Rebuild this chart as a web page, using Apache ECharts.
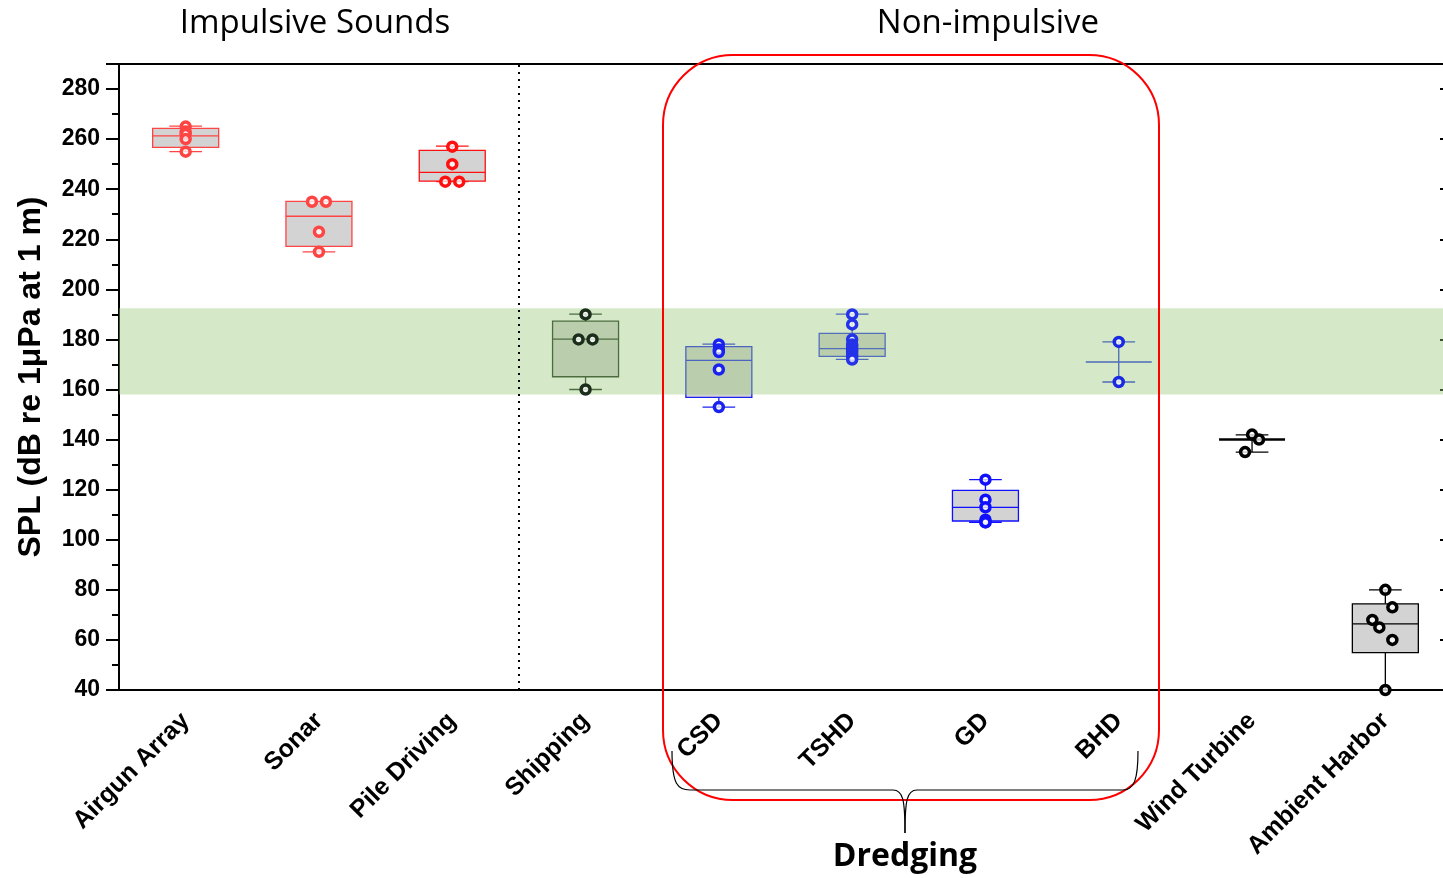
<!DOCTYPE html>
<html>
<head>
<meta charset="utf-8">
<title>SPL by source</title>
<script src="https://cdn.jsdelivr.net/npm/echarts@6/dist/echarts.min.js"></script>
<style>
  html, body { margin: 0; padding: 0; background: #fff; }
  #chart { width: 1443px; height: 878px; }
</style>
</head>
<body>
<div id="chart"></div>
<script>
// categories along the x axis
var categories = ['Airgun Array', 'Sonar', 'Pile Driving', 'Shipping', 'CSD', 'TSHD', 'GD', 'BHD', 'Wind Turbine', 'Ambient Harbor']

// box statistics (dB re 1 uPa at 1 m)
var whiskerLow  = [255, 215, 243, 160, 153, 172, 107, 163, 135, 40]
var boxLow      = [256.7, 217.2, 243.2, 165.1, 156.9, 173.2, 107.5, 171, 140, 54.9]
var medians     = [261.3, 229.2, 246.7, 180.1, 171.6, 176.3, 112.9, 171, 140, 66.4]
var boxHigh     = [264.3, 235.1, 255.5, 187.3, 177.1, 182.4, 119.7, 171, 140, 74.4]
var whiskerHigh = [265.2, 235, 257.2, 190.1, 178.1, 190.1, 124, 179, 141.9, 80]

// individual measurements per category
var pointValues = [
  [265, 263, 262, 260, 255],
  [235, 235, 223, 215],
  [257, 250, 243, 243],
  [190, 180, 180, 160],
  [178, 176, 175, 168, 153],
  [190, 186, 180, 178, 177, 176, 175, 174, 173, 172],
  [124, 116, 113, 108, 107, 107],
  [179, 163],
  [142, 140, 135],
  [80, 73, 68, 65, 60, 40]
]

// range where the non-impulsive sources overlap
var bandRange = [158, 192.5]
// impulsive | non-impulsive split (after the 3rd category)
var separatorAt = 3

// y axis ticks
var yMin = 40
var yMax = 290
var yStep = 20

// styling
var groupColor = ['#ff4444', '#ff4444', '#ff1010', '#1b2e1b', '#1a22f0', '#2433e8', '#1010ff', '#1a2ae0', '#000000', '#000000']
var pointJitter = [
  [0, 0, 0, 0, 0],
  [-7, 7, 0, 0],
  [0, 0, -7, 7],
  [0, -7, 7, 0],
  [0, 0, 0, 0, 0],
  [0, 0, 0, 0, 0, 0, 0, 0, 0, 0],
  [0, 0, 0, 0, 0, 0],
  [0, 0],
  [0, 7, -7],
  [0, 7, -13, -6, 7, 0]
]

var boxData = categories.map(function(c, i) {
  return [i, whiskerLow[i], boxLow[i], medians[i], boxHigh[i], whiskerHigh[i]]
})

var scatterData = []
pointValues.forEach(function(vals, i) {
  vals.forEach(function(v, k) {
    scatterData.push({
      value: [i, v],
      symbolOffset: [pointJitter[i][k], 0],
      itemStyle: { borderColor: groupColor[i] }
    })
  })
})

function renderBox(params, api) {
  var i = api.value(0)
  var color = groupColor[i]
  var band = api.size([1, 0])[0]
  var boxW = band * 0.495
  var capW = band * 0.245
  var lo = api.coord([i, api.value(1)])
  var q1 = api.coord([i, api.value(2)])
  var med = api.coord([i, api.value(3)])
  var q3 = api.coord([i, api.value(4)])
  var hi = api.coord([i, api.value(5)])
  var x = med[0]
  var line = { stroke: color, lineWidth: 1.3 }
  var children = []
  children.push({ type: 'line', shape: { x1: x, y1: hi[1], x2: x, y2: q3[1] }, style: line })
  children.push({ type: 'line', shape: { x1: x, y1: q1[1], x2: x, y2: lo[1] }, style: line })
  children.push({ type: 'line', shape: { x1: x - capW / 2, y1: hi[1], x2: x + capW / 2, y2: hi[1] }, style: line })
  children.push({ type: 'line', shape: { x1: x - capW / 2, y1: lo[1], x2: x + capW / 2, y2: lo[1] }, style: line })
  if (q1[1] - q3[1] > 0.5) {
    children.push({
      type: 'rect',
      shape: { x: x - boxW / 2, y: q3[1], width: boxW, height: q1[1] - q3[1] },
      style: { fill: '#d3d3d3', stroke: color, lineWidth: 1.3 }
    })
  }
  children.push({
    type: 'line',
    shape: { x1: x - boxW / 2, y1: med[1], x2: x + boxW / 2, y2: med[1] },
    style: { stroke: color, lineWidth: i === 8 ? 2.5 : 1.3 }
  })
  return { type: 'group', children: children }
}

var chart = echarts.init(document.getElementById('chart'))

var axisFont = { fontFamily: 'Liberation Sans, Arial, sans-serif', fontWeight: 'bold', color: '#000' }
var braceStyle = { fill: 'none', stroke: '#000', lineWidth: 1.2 }

chart.setOption({
  animation: false,
  grid: { left: 119, top: 64, width: 1333, height: 626, containLabel: false, outerBoundsMode: 'none' },
  xAxis: [
    {
      type: 'category',
      data: categories,
      position: 'bottom',
      axisLine: { lineStyle: { color: '#000', width: 2 } },
      axisTick: { alignWithLabel: true, length: 12, lineStyle: { color: '#000', width: 2 } },
      axisLabel: Object.assign({ rotate: 45, margin: 27, interval: 0, fontSize: 25 }, axisFont),
      splitLine: { show: false }
    },
    {
      type: 'category',
      data: categories,
      position: 'top',
      axisLine: { lineStyle: { color: '#000', width: 2 } },
      axisTick: { alignWithLabel: true, inside: true, length: 12, lineStyle: { color: '#000', width: 2 } },
      axisLabel: { show: false },
      splitLine: { show: false }
    },
    {
      // plain index scale, only used to place the group separator between categories
      type: 'value',
      min: 0,
      max: categories.length,
      show: false
    }
  ],
  yAxis: [
    {
      type: 'value',
      min: yMin,
      max: yMax,
      interval: yStep,
      name: 'SPL (dB re 1\u03bcPa at 1 m)',
      nameLocation: 'middle',
      nameGap: 72,
      nameTextStyle: { fontFamily: 'Liberation Sans, Arial, sans-serif', fontWeight: 'bold', fontSize: 32, color: '#000' },
      axisLine: { show: true, lineStyle: { color: '#000', width: 2 } },
      axisTick: { show: true, length: 13, lineStyle: { color: '#000', width: 2 } },
      minorTick: { show: true, splitNumber: 2, length: 7, lineStyle: { color: '#000', width: 2 } },
      axisLabel: Object.assign({
        margin: 19,
        fontSize: 23,
        formatter: function(v) { return (v - yMin) % yStep === 0 ? String(v) : '' }
      }, axisFont),
      splitLine: { show: false }
    },
    {
      type: 'value',
      min: yMin,
      max: yMax,
      interval: yStep,
      position: 'right',
      axisLine: { show: true, lineStyle: { color: '#000', width: 2 } },
      axisTick: { show: true, inside: true, length: 12, lineStyle: { color: '#000', width: 2 } },
      axisLabel: { show: false },
      splitLine: { show: false }
    }
  ],
  series: [
    {
      type: 'custom',
      name: 'box',
      renderItem: renderBox,
      data: boxData,
      z: 2,
      silent: true
    },
    {
      type: 'line',
      name: 'band',
      xAxisIndex: 2,
      data: [],
      z: 3,
      silent: true,
      markArea: {
        silent: true,
        z: 3,
        itemStyle: { color: 'rgba(150, 200, 118, 0.4)' },
        data: [[{ yAxis: bandRange[0] }, { yAxis: bandRange[1] }]]
      },
      markLine: {
        silent: true,
        symbol: 'none',
        label: { show: false },
        lineStyle: { color: '#000', type: [2, 5], width: 2 },
        data: [{ xAxis: separatorAt }]
      }
    },
    {
      type: 'scatter',
      name: 'points',
      data: scatterData,
      symbol: 'circle',
      symbolSize: 9,
      z: 4,
      itemStyle: { color: 'rgba(255, 255, 255, 0.75)', borderWidth: 3.5, opacity: 1 }
    }
  ],
  graphic: [
    {
      type: 'text', x: 315, y: 24,
      style: { text: 'Impulsive Sounds', font: '33px "Open Sans", sans-serif', fill: '#000', align: 'center', verticalAlign: 'middle' }
    },
    {
      type: 'text', x: 988, y: 24,
      style: { text: 'Non-impulsive', font: '33px "Open Sans", sans-serif', fill: '#000', align: 'center', verticalAlign: 'middle' }
    },
    {
      type: 'rect', z: 10,
      shape: { x: 663, y: 55, width: 496, height: 745, r: 70 },
      style: { fill: 'none', stroke: '#ff0000', lineWidth: 2 }
    },
    { type: 'bezierCurve', z: 10, shape: { x1: 672, y1: 751, cpx1: 672, cpy1: 785, cpx2: 678, cpy2: 790, x2: 690, y2: 790 }, style: braceStyle },
    { type: 'line', z: 10, shape: { x1: 690, y1: 790, x2: 893, y2: 790 }, style: braceStyle },
    { type: 'bezierCurve', z: 10, shape: { x1: 893, y1: 790, cpx1: 903, cpy1: 790, cpx2: 905, cpy2: 800, x2: 905, y2: 833 }, style: braceStyle },
    { type: 'bezierCurve', z: 10, shape: { x1: 905, y1: 833, cpx1: 905, cpy1: 800, cpx2: 907, cpy2: 790, x2: 917, y2: 790 }, style: braceStyle },
    { type: 'line', z: 10, shape: { x1: 917, y1: 790, x2: 1123, y2: 790 }, style: braceStyle },
    { type: 'bezierCurve', z: 10, shape: { x1: 1123, y1: 790, cpx1: 1134, cpy1: 790, cpx2: 1138, cpy2: 780, x2: 1138, y2: 751 }, style: braceStyle },
    {
      type: 'text', x: 905, y: 857,
      style: { text: 'Dredging', font: 'bold 32px "Open Sans", sans-serif', fill: '#000', align: 'center', verticalAlign: 'middle' }
    }
  ]
})
</script>
</body>
</html>
